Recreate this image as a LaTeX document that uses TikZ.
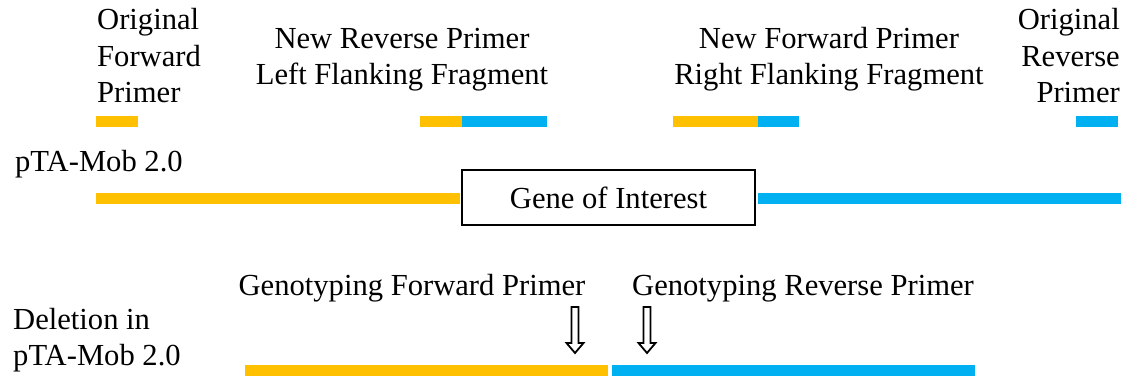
\documentclass[tikz,border=0pt]{standalone}
\usepackage{fontspec}
\setmainfont{Liberation Serif}
\usetikzlibrary{arrows.meta}
\definecolor{pyel}{HTML}{FFC000}
\definecolor{pblu}{HTML}{00B0F0}
\begin{document}
\begin{tikzpicture}[x=1pt,y=-1pt,
  lbl/.style={inner sep=0pt, font=\fontsize{30.6}{36.7}\selectfont},
  ybar/.style={fill=pyel, draw=none},
  bbar/.style={fill=pblu, draw=none},
  blockarrow/.style={draw=black, fill=white, line width=1.8pt, line join=miter}]
\useasboundingbox (0,0) rectangle (1130,379);
% top labels
\node[lbl, align=left, anchor=base west] (ofp) at (97,103) {Original\\Forward\\Primer};
\node[lbl, align=center, anchor=base] (nrp) at (402,85) {New Reverse Primer\\Left Flanking Fragment};
\node[lbl, align=center, anchor=base] (nfp) at (829,85) {New Forward Primer\\Right Flanking Fragment};
\node[lbl, align=right, anchor=base east] (orp) at (1120,103) {Original\\Reverse\\Primer};
% primer bars
\fill[ybar] (96,116) rectangle (138,127);
\fill[ybar] (420,116) rectangle (462,127);
\fill[bbar] (462,116) rectangle (547,127);
\fill[ybar] (673,116) rectangle (758,127);
\fill[bbar] (758,116) rectangle (799,127);
\fill[bbar] (1076,116) rectangle (1118,127);
% pTA-Mob 2.0
\node[lbl, anchor=base west] (ptm) at (15,172) {pTA-Mob 2.0};
\fill[ybar] (96,193) rectangle (460,204);
\fill[bbar] (758,193) rectangle (1121,204);
\node[lbl, draw=black, line width=1.8pt, minimum width=293pt, minimum height=55pt] (goi) at (608.5,197.5) {Gene of Interest};
% deletion
\node[lbl, anchor=base] (gfp) at (412,296) {Genotyping Forward Primer};
\node[lbl, anchor=base] (grp) at (803,296) {Genotyping Reverse Primer};
\node[lbl, align=left, anchor=base west] (del) at (13,366) {Deletion in\\pTA-Mob 2.0};
\fill[ybar] (245,365) rectangle (608,376);
\fill[bbar] (612,365) rectangle (975,376);
\coordinate (a1) at (575,307);
\coordinate (a2) at (647,307);
\foreach \a in {a1,a2}{
  \draw[blockarrow] ([xshift=-3.5pt]\a) -- ([xshift=3.5pt]\a) -- ([xshift=3.5pt,yshift=-36pt]\a)
    -- ([xshift=8.5pt,yshift=-36pt]\a) -- ([yshift=-46pt]\a) -- ([xshift=-8.5pt,yshift=-36pt]\a)
    -- ([xshift=-3.5pt,yshift=-36pt]\a) -- cycle;
}
\end{tikzpicture}
\end{document}
